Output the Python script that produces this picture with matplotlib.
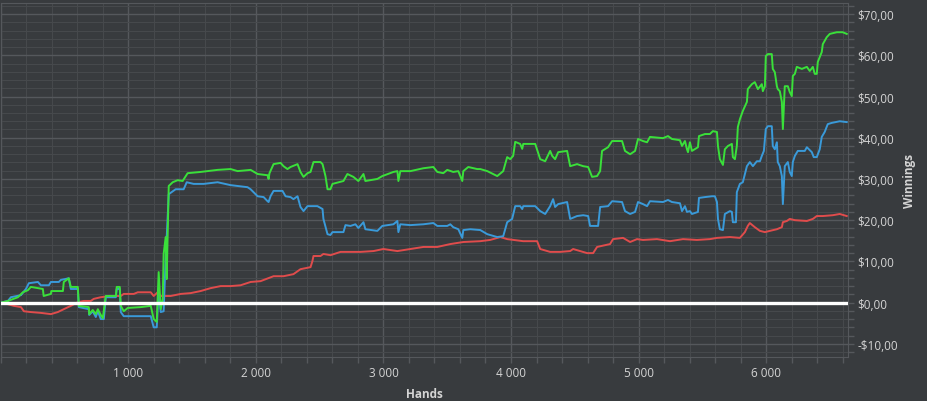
import matplotlib.pyplot as plt
from matplotlib.ticker import MultipleLocator, FuncFormatter

# winnings per hand
green_hands = [0, 55, 133, 172, 211, 235, 329, 335, 392, 395, 486, 493, 532, 548, 603, 611, 689, 692, 720, 744,
               760, 783, 799, 822, 901, 908, 932, 940, 963, 995, 1096, 1175, 1198, 1222, 1237, 1253, 1269, 1276,
               1292, 1300, 1316, 1347, 1386, 1425, 1464, 1566, 1699, 1801, 1856, 1958, 2013, 2091, 2099, 2106,
               2138, 2193, 2216, 2247, 2271, 2326, 2349, 2373, 2404, 2428, 2451, 2506, 2522, 2545, 2561, 2584,
               2600, 2686, 2717, 2764, 2803, 2843, 2858, 2952, 2991, 3078, 3109, 3117, 3132, 3211, 3313, 3391,
               3422, 3469, 3500, 3547, 3587, 3618, 3626, 3665, 3735, 3759, 3814, 3892, 3939, 3970, 3994, 4017,
               4033, 4072, 4088, 4096, 4190, 4229, 4268, 4307, 4323, 4346, 4370, 4440, 4464, 4518, 4566, 4605,
               4636, 4675, 4699, 4714, 4761, 4793, 4871, 4894, 4934, 4973, 4996, 5035, 5067, 5090, 5192, 5231,
               5262, 5325, 5341, 5364, 5380, 5388, 5403, 5419, 5466, 5474, 5521, 5560, 5583, 5615, 5623, 5638,
               5662, 5677, 5701, 5732, 5740, 5756, 5771, 5779, 5795, 5818, 5850, 5857, 5889, 5912, 5936, 5967,
               5975, 5991, 5998, 6014, 6045, 6053, 6069, 6085, 6092, 6108, 6124, 6132, 6147, 6171, 6186, 6202,
               6210, 6226, 6241, 6281, 6320, 6343, 6367, 6382, 6398, 6406, 6437, 6445, 6476, 6500, 6555, 6601,
               6633]
green_won = [0, 0.4, 1.3, 2.5, 3.0, 3.8, 3.3, 1.6, 2.1, 2.8, 2.8, 5.0, 5.9, 3.8, 3.8, -0.8, -1.1, -2.8, -1.8, -2.8,
             -1.6, -3.0, -3.8, 1.6, 1.6, 3.8, 3.8, -0.8, -2.1, -1.3, -1.1, -0.8, -4.0, -4.7, 7.4, -1.6, 0.9, 11.8,
             15.9, 5.7, 28.3, 29.2, 29.7, 29.5, 31.4, 31.7, 32.2, 32.4, 31.9, 32.2, 31.2, 30.9, 30.0, 31.4,
             33.6, 33.9, 33.1, 32.4, 32.9, 33.6, 31.7, 30.5, 31.4, 31.7, 34.1, 34.1, 33.6, 30.7, 27.5, 27.5,
             28.8, 29.5, 31.2, 30.5, 29.5, 31.2, 29.5, 30.0, 30.7, 31.7, 31.9, 29.5, 31.9, 31.9, 32.6, 32.9,
             31.7, 31.4, 32.2, 31.7, 31.9, 29.5, 31.9, 32.9, 32.4, 32.4, 31.9, 30.7, 31.9, 35.3, 34.8, 35.6,
             39.0, 38.5, 37.3, 38.5, 38.5, 34.8, 34.3, 36.8, 35.6, 34.8, 36.5, 36.8, 33.1, 33.6, 33.1, 32.9,
             30.5, 30.7, 31.9, 36.8, 37.7, 39.2, 39.2, 36.8, 36.0, 36.8, 39.7, 39.2, 38.9, 40.2, 39.9, 40.4,
             39.7, 39.4, 38.0, 39.2, 37.2, 36.5, 38.9, 36.8, 37.7, 40.4, 40.9, 40.9, 41.6, 41.4, 38.0, 34.8,
             33.4, 37.2, 38.0, 38.5, 35.3, 34.8, 38.0, 42.6, 44.5, 46.5, 48.7, 51.8, 53.0, 53.5, 51.8, 53.0,
             51.3, 52.5, 59.8, 60.3, 60.3, 56.7, 55.9, 52.5, 51.8, 51.3, 48.7, 42.1, 52.5, 52.5, 51.1, 50.1,
             55.0, 55.5, 57.2, 56.7, 57.2, 56.2, 57.2, 55.5, 55.5, 58.4, 60.8, 62.7, 64.4, 65.2, 65.6, 65.6,
             65.2]

blue_hands = [0, 55, 78, 157, 196, 219, 290, 313, 376, 392, 454, 470, 532, 548, 603, 611, 689, 692, 720, 744,
              760, 783, 807, 822, 901, 908, 932, 940, 963, 1175, 1198, 1222, 1237, 1253, 1276, 1292, 1316, 1370,
              1433, 1457, 1511, 1590, 1699, 1801, 1856, 1934, 1958, 2013, 2060, 2091, 2099, 2114, 2138, 2208,
              2232, 2271, 2294, 2326, 2349, 2373, 2404, 2482, 2522, 2529, 2561, 2584, 2600, 2686, 2702, 2741,
              2780, 2803, 2843, 2858, 2952, 2991, 3078, 3109, 3117, 3132, 3211, 3313, 3391, 3422, 3500, 3524,
              3547, 3587, 3618, 3626, 3681, 3759, 3814, 3892, 3939, 3970, 4009, 4033, 4072, 4088, 4096, 4190,
              4229, 4268, 4307, 4330, 4346, 4370, 4440, 4464, 4518, 4566, 4605, 4620, 4683, 4699, 4761, 4793,
              4871, 4894, 4934, 4973, 4996, 5035, 5067, 5090, 5192, 5231, 5262, 5325, 5341, 5364, 5380, 5403,
              5419, 5466, 5474, 5521, 5576, 5599, 5615, 5623, 5638, 5662, 5677, 5717, 5732, 5740, 5764, 5771,
              5795, 5818, 5850, 5873, 5897, 5928, 5952, 5967, 5983, 5998, 6014, 6045, 6053, 6069, 6085, 6092,
              6108, 6124, 6132, 6147, 6171, 6186, 6202, 6210, 6226, 6249, 6304, 6320, 6359, 6374, 6398, 6421,
              6437, 6460, 6484, 6515, 6578, 6633]
blue_won = [0, 0.4, 1.3, 1.8, 3.3, 4.7, 5.0, 4.2, 4.2, 5.0, 5.0, 5.5, 5.9, 3.3, 3.3, -1.1, -1.6, -3.0, -2.1, -3.5,
            -2.1, -4.0, -4.0, 1.3, 1.3, 3.3, 3.3, -2.3, -3.3, -3.3, -6.0, -6.0, 3.3, -2.3, -2.1, 10.6, 26.3, 27.5,
            27.5, 29.2, 28.8, 28.8, 29.2, 28.5, 28.3, 28.0, 27.5, 25.8, 25.6, 24.6, 24.4, 25.8, 27.1, 27.1,
            25.8, 25.6, 25.1, 25.8, 23.2, 22.2, 23.4, 23.4, 22.7, 20.3, 16.6, 16.4, 17.1, 17.1, 18.8, 18.6,
            19.0, 18.1, 19.5, 17.8, 17.4, 18.6, 19.0, 19.8, 17.1, 19.0, 18.8, 19.0, 19.3, 18.6, 18.6, 19.0,
            18.3, 17.8, 15.7, 17.6, 17.8, 17.6, 16.6, 15.9, 16.1, 19.5, 20.3, 23.4, 23.4, 22.7, 23.4, 23.4,
            22.2, 21.5, 23.4, 25.1, 23.2, 23.9, 24.4, 20.3, 21.0, 21.2, 21.0, 18.6, 18.6, 23.2, 23.4, 24.6,
            24.4, 22.2, 21.5, 22.0, 24.4, 23.9, 23.4, 24.6, 24.4, 24.9, 24.4, 24.1, 22.2, 23.4, 22.0, 22.2,
            21.5, 22.0, 25.4, 25.6, 25.8, 25.8, 24.4, 20.3, 17.8, 17.6, 21.5, 22.2, 22.0, 19.5, 19.5, 26.8,
            28.8, 29.2, 33.1, 34.1, 33.1, 34.3, 34.3, 35.6, 36.8, 42.1, 42.8, 42.8, 38.0, 37.2, 38.9, 34.1,
            33.1, 30.7, 23.9, 33.1, 34.1, 31.7, 30.7, 34.1, 35.6, 36.8, 36.8, 37.7, 36.5, 35.3, 35.3, 37.2,
            40.2, 41.4, 43.3, 43.6, 44.0, 43.8]

red_hands = [0, 55, 102, 157, 180, 235, 313, 392, 446, 493, 548, 603, 650, 705, 728, 783, 861, 940, 963, 1042,
             1073, 1175, 1198, 1229, 1253, 1331, 1410, 1488, 1566, 1644, 1723, 1801, 1879, 1958, 2036, 2138,
             2216, 2294, 2349, 2428, 2443, 2451, 2506, 2529, 2584, 2663, 2819, 2921, 2999, 3109, 3211, 3313,
             3422, 3524, 3626, 3759, 3837, 3916, 3970, 4096, 4205, 4229, 4307, 4385, 4464, 4487, 4542, 4597,
             4644, 4675, 4777, 4800, 4879, 4934, 4988, 5035, 5145, 5247, 5349, 5458, 5560, 5615, 5717, 5795,
             5834, 5857, 5873, 5912, 5952, 5991, 6030, 6085, 6124, 6132, 6163, 6186, 6226, 6320, 6367, 6398,
             6445, 6523, 6578, 6633]
red_won = [0, -0.4, -0.8, -1.1, -2.1, -2.3, -2.5, -2.8, -2.3, -1.6, -0.8, 0.1, 0.4, 0.4, 0.9, 1.3, 1.6, 1.6, 2.1,
           2.1, 2.5, 2.5, 1.6, 2.5, 1.6, 1.6, 2.1, 2.3, 2.8, 3.5, 4.0, 4.0, 4.2, 5.0, 5.2, 6.4,
           6.4, 6.9, 8.1, 8.6, 10.1, 11.3, 11.3, 11.8, 11.5, 12.3, 12.3, 12.5, 13.0, 12.5, 13.0, 13.5,
           13.5, 14.2, 14.7, 14.9, 15.2, 15.9, 15.4, 14.9, 14.9, 13.0, 12.3, 12.3, 12.5, 13.0, 12.5, 12.0,
           12.0, 13.5, 14.2, 15.4, 15.7, 14.7, 15.4, 15.2, 15.4, 14.9, 15.4, 15.2, 15.4, 15.7, 15.9, 15.7,
           17.1, 18.6, 19.3, 18.3, 17.4, 17.1, 17.4, 17.8, 18.3, 19.5, 19.8, 20.3, 20.0, 19.8, 20.3, 21.0,
           21.0, 21.2, 21.5, 21.0]

bg = '#383b3e'
major_grid = '#55585c'
minor_grid = '#46494c'
text_col = '#d4d4d4'

plt.rcParams['font.family'] = ['Open Sans', 'DejaVu Sans']

fig = plt.figure(figsize=(9.27, 4.02), dpi=100, facecolor=bg)
ax = fig.add_axes([0.001, 0.1095, 0.9134, 0.8806], facecolor=bg)

ax.plot(red_hands, red_won, color='#e04c4c', lw=1.4, zorder=3)
ax.plot(blue_hands, blue_won, color='#3a9ad9', lw=1.4, zorder=4)
ax.plot(green_hands, green_won, color='#3ae03a', lw=1.4, zorder=5)
ax.axhline(0, color='white', lw=2.4, zorder=6)

ax.set_xlim(0, 6640)
ax.set_ylim(-13.2, 72.7)

ax.xaxis.set_major_locator(MultipleLocator(1000))
ax.xaxis.set_minor_locator(MultipleLocator(200))
ax.yaxis.set_major_locator(MultipleLocator(10))
ax.yaxis.set_minor_locator(MultipleLocator(2))

def hands_fmt(v, pos):
    if v <= 0:
        return ''
    return '{:,.0f}'.format(v).replace(',', ' ')

def money_fmt(v, pos):
    s = '${:.2f}'.format(abs(v)).replace('.', ',')
    return ('-' + s) if v < -0.001 else s

ax.xaxis.set_major_formatter(FuncFormatter(hands_fmt))
ax.yaxis.set_major_formatter(FuncFormatter(money_fmt))
ax.yaxis.tick_right()
ax.yaxis.set_label_position('right')

ax.grid(which='major', color=major_grid, lw=1.0, zorder=0)
ax.grid(which='minor', color=minor_grid, lw=0.8, zorder=0)
ax.set_axisbelow(True)

ax.tick_params(which='both', colors=major_grid, length=4, width=1)
ax.tick_params(axis='x', which='major', labelcolor=text_col, labelsize=8.5, pad=2.5)
ax.tick_params(axis='y', which='major', labelcolor=text_col, labelsize=8.5, pad=3)

for s in ax.spines.values():
    s.set_color(major_grid)

ax.set_xlabel('Hands', color=text_col, fontsize=8.5, fontweight='bold', va='center')
ax.xaxis.set_label_coords(0.5, -0.104)
ax.set_ylabel('Winnings', color=text_col, fontsize=8.5, fontweight='bold', va='center', ha='center')
ax.yaxis.set_label_coords(1.0735, 0.5)

plt.savefig('out.png', dpi=100, facecolor=bg)
